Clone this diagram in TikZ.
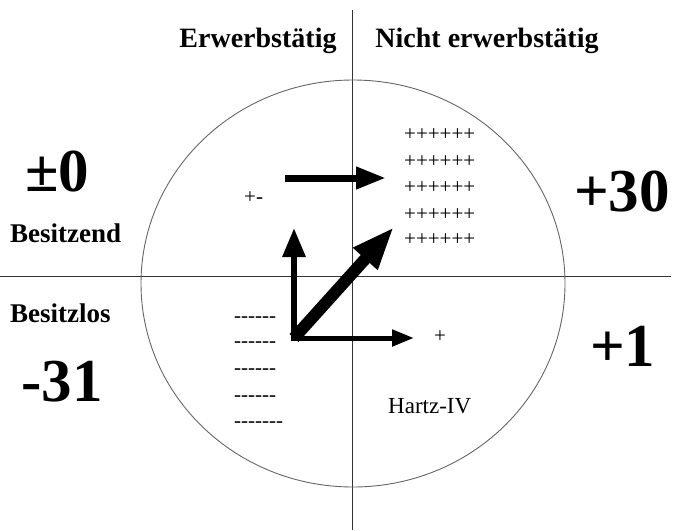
\documentclass[tikz,border=0pt]{standalone}
\usepackage{fontspec}
\setmainfont{Liberation Serif}
\usetikzlibrary{arrows.meta}
\newcommand\hy{\mbox{-}}
\begin{document}
\begin{tikzpicture}[x=1pt,y=-1pt,
  axis/.style={line width=0.9pt, black!80},
  ring/.style={line width=0.9pt, black!60},
  head/.style={font=\bfseries\fontsize{28}{30}\selectfont, inner sep=0, anchor=base},
  side/.style={font=\bfseries\fontsize{27}{29}\selectfont, inner sep=0, anchor=base west},
  big/.style={font=\bfseries\fontsize{61}{66}\selectfont, inner sep=0, anchor=base west},
  sym/.style={font=\fontsize{21}{23}\selectfont, inner sep=0, anchor=base west},
  thick arrow/.style n args={3}{line width=#1, -{Triangle[length=#2,width=#3]}}
]
\useasboundingbox (0,0) rectangle (674,530);
% axes
\coordinate (vtop) at (352,10);
\coordinate (vbot) at (352,530);
\coordinate (hl) at (0,276);
\coordinate (hr) at (671,276);
\draw[axis] (vtop) -- (vbot);
\draw[axis] (hl) -- (hr);
% circle
\coordinate (c) at (353,283.5);
\draw[ring] (c) ellipse [x radius=212, y radius=203.5];
% headers
\node[head] (erw) at (258,47) {Erwerbstätig};
\node[head] (nerw) at (487,47) {Nicht erwerbstätig};
% side labels
\node[side] (bz) at (10,242) {Besitzend};
\node[side] (bl) at (10,322) {Besitzlos};
% big numbers
\node[big] (n0) at (25,191) {±0};
\node[big] (n30) at (574,211) {+30};
\node[big] (n1) at (590,366) {+1};
\node[big] (n31) at (21,401) {-31};
% symbols
\node[sym] (pm) at (244,203) {+\hy};
\foreach \i/\y in {1/140,2/167,3/193,4/220,5/245}
  \node[sym] (p\i) at (404,\y) {++++++};
\foreach \i/\y in {1/322,2/347,3/374,4/401}
  \node[sym] (m\i) at (234,\y) {\hy\hy\hy\hy\hy\hy};
\node[sym] (m5) at (234,427) {\hy\hy\hy\hy\hy\hy\hy};
\node[sym] (plus) at (434,342) {+};
\node[font=\fontsize{23}{26}\selectfont, inner sep=0, anchor=base west] (hartz) at (388,413) {Hartz-IV};
% arrows
\coordinate (t1) at (285,178);
\coordinate (t2) at (386,178);
\draw[thick arrow={7pt}{30pt}{21pt}] (t1) -- (t2);
\coordinate (o) at (294,341);
\coordinate (up) at (294,228);
\coordinate (rt) at (414,338);
\coordinate (o2) at (294,338);
\coordinate (dg) at (394,227);
\draw[thick arrow={6pt}{29pt}{22pt}] (o) -- (up);
\draw[thick arrow={5pt}{22pt}{16pt}] (o2) -- (rt);
\draw[thick arrow={12pt}{43pt}{30pt}] (o2) -- (dg);
\end{tikzpicture}
\end{document}
